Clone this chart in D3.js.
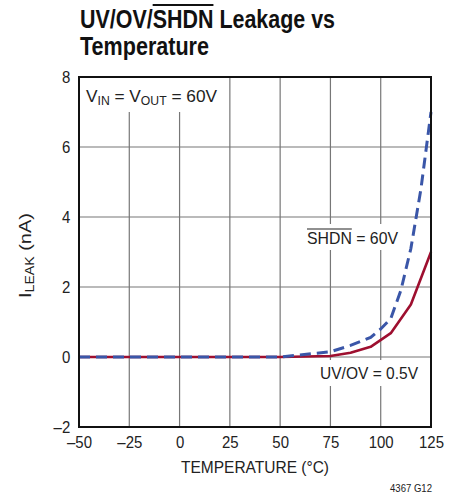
<!DOCTYPE html>
<html><head><meta charset="utf-8">
<script src="https://cdn.jsdelivr.net/npm/d3@7"></script>
<style>
body{margin:0;background:#fff;}
text{font-family:"Liberation Sans",Arial,sans-serif;}
</style></head>
<body><svg id="c" width="461" height="497"></svg>
<script>
const xTicks = [-50,-25,0,25,50,75,100,125];
const xTickLabels = ["–50","–25","0","25","50","75","100","125"];
const yTicks = [-2,0,2,4,6,8];
const yTickLabels = ["–2","0","2","4","6","8"];
const uvTemp = [-50,-25,0,25,50,75,85,95,105,115,125];
const uvLeak = [0,0,0,0,0,0.03,0.12,0.29,0.68,1.5,3.0];
const shdnTemp = [-50,-25,0,25,50,75,85,95,100,105,110,115,120,125];
const shdnLeak = [0,0,0,0,0,0.15,0.33,0.56,0.8,1.1,1.9,3.1,4.8,7.0];

const svg = d3.select("#c");
const L=79,R=431,T=77,B=427;
const x = d3.scaleLinear().domain([-50,125]).range([L,R]);
const y = d3.scaleLinear().domain([-2,8]).range([B,T]);

// grid
const g = svg.append("g");
g.selectAll(".vg").data(xTicks).join("line")
 .attr("x1",d=>x(d)).attr("x2",d=>x(d)).attr("y1",T).attr("y2",B)
 .attr("stroke","#777").attr("stroke-width",1.2);
g.selectAll(".hg").data(yTicks).join("line")
 .attr("x1",L).attr("x2",R).attr("y1",d=>y(d)).attr("y2",d=>y(d))
 .attr("stroke","#777").attr("stroke-width",1.2);

// label backgrounds
function bg(x0,y0,w,h){svg.append("rect").attr("x",x0).attr("y",y0).attr("width",w).attr("height",h).attr("fill","#fff");}
bg(L+1,T+1,145,34);
bg(302,224,100,26);
bg(314,360,108,26);

// axes (tick labels)
const xa = svg.append("g").attr("transform",`translate(0,${B})`)
 .call(d3.axisBottom(x).tickValues(xTicks).tickSize(0).tickPadding(9).tickFormat((d,i)=>xTickLabels[i]));
const ya = svg.append("g").attr("transform",`translate(${L},0)`)
 .call(d3.axisLeft(y).tickValues(yTicks).tickSize(0).tickPadding(10).tickFormat((d,i)=>yTickLabels[i]));
[xa,ya].forEach(a=>{a.select(".domain").remove();
 a.selectAll("text").attr("font-size",17).attr("fill","#222").attr("transform","scale(0.88,1)")
  .style("font-family",'"Liberation Sans",Arial,sans-serif');});

// data lines
const line = d3.line().x(d=>x(d[0])).y(d=>y(d[1]));
svg.append("path").datum(uvTemp.map((t,i)=>[t,uvLeak[i]])).attr("d",line)
 .attr("fill","none").attr("stroke","#9e0f2f").attr("stroke-width",2.6).attr("stroke-linejoin","round");
svg.append("path").datum(shdnTemp.map((t,i)=>[t,shdnLeak[i]])).attr("d",line)
 .attr("fill","none").attr("stroke","#3a56a8").attr("stroke-width",3).attr("stroke-dasharray","11,6");

// frame
svg.append("rect").attr("x",L).attr("y",T).attr("width",R-L).attr("height",B-T)
 .attr("fill","none").attr("stroke","#111").attr("stroke-width",2);

// title
const title = svg.append("text").attr("x",80).attr("y",28).attr("font-size",25).attr("font-weight","bold").attr("fill","#111")
 .attr("textLength",255).attr("lengthAdjust","spacingAndGlyphs").text("UV/OV/SHDN Leakage vs");
let ox0=153, ox1=204;
try{ const n=title.node(); ox0=n.getStartPositionOfChar(6).x; ox1=n.getEndPositionOfChar(9).x; }catch(e){}
svg.append("line").attr("x1",ox0).attr("x2",ox1).attr("y1",5).attr("y2",5).attr("stroke","#111").attr("stroke-width",2);
svg.append("text").attr("x",80).attr("y",55).attr("font-size",25).attr("font-weight","bold").attr("fill","#111")
 .attr("textLength",129).attr("lengthAdjust","spacingAndGlyphs").text("Temperature");

// annotations
const t1 = svg.append("text").attr("x",86).attr("y",102).attr("font-size",17).attr("fill","#222")
 .attr("textLength",131).attr("lengthAdjust","spacingAndGlyphs");
t1.append("tspan").text("V");
t1.append("tspan").attr("font-size",12).attr("dy",3).text("IN");
t1.append("tspan").attr("dy",-3).text(" = V");
t1.append("tspan").attr("font-size",12).attr("dy",3).text("OUT");
t1.append("tspan").attr("dy",-3).text(" = 60V");

const t2 = svg.append("text").attr("x",307).attr("y",244).attr("font-size",17).attr("fill","#222")
 .attr("textLength",91).attr("lengthAdjust","spacingAndGlyphs").text("SHDN = 60V");
let sx0=307, sx1=350;
try{ const n=t2.node(); sx0=n.getStartPositionOfChar(0).x; sx1=n.getEndPositionOfChar(3).x; }catch(e){}
svg.append("line").attr("x1",sx0).attr("x2",sx1).attr("y1",229).attr("y2",229).attr("stroke","#222").attr("stroke-width",1.2);

svg.append("text").attr("x",320).attr("y",379).attr("font-size",17).attr("fill","#222")
 .attr("textLength",98).attr("lengthAdjust","spacingAndGlyphs").text("UV/OV = 0.5V");

// axis titles
svg.append("text").attr("x",181).attr("y",473).attr("font-size",17).attr("fill","#222")
 .attr("textLength",148).attr("lengthAdjust","spacingAndGlyphs").text("TEMPERATURE (°C)");
const yt = svg.append("text").attr("transform","translate(31,298) rotate(-90)").attr("font-size",17).attr("fill","#222")
 .attr("textLength",85).attr("lengthAdjust","spacingAndGlyphs");
yt.append("tspan").text("I");
yt.append("tspan").attr("font-size",12).attr("dy",3).text("LEAK");
yt.append("tspan").attr("dy",-3).text(" (nA)");

svg.append("text").attr("x",390).attr("y",492).attr("font-size",11).attr("fill","#222")
 .attr("textLength",42).attr("lengthAdjust","spacingAndGlyphs").text("4367 G12");
</script></body></html>
